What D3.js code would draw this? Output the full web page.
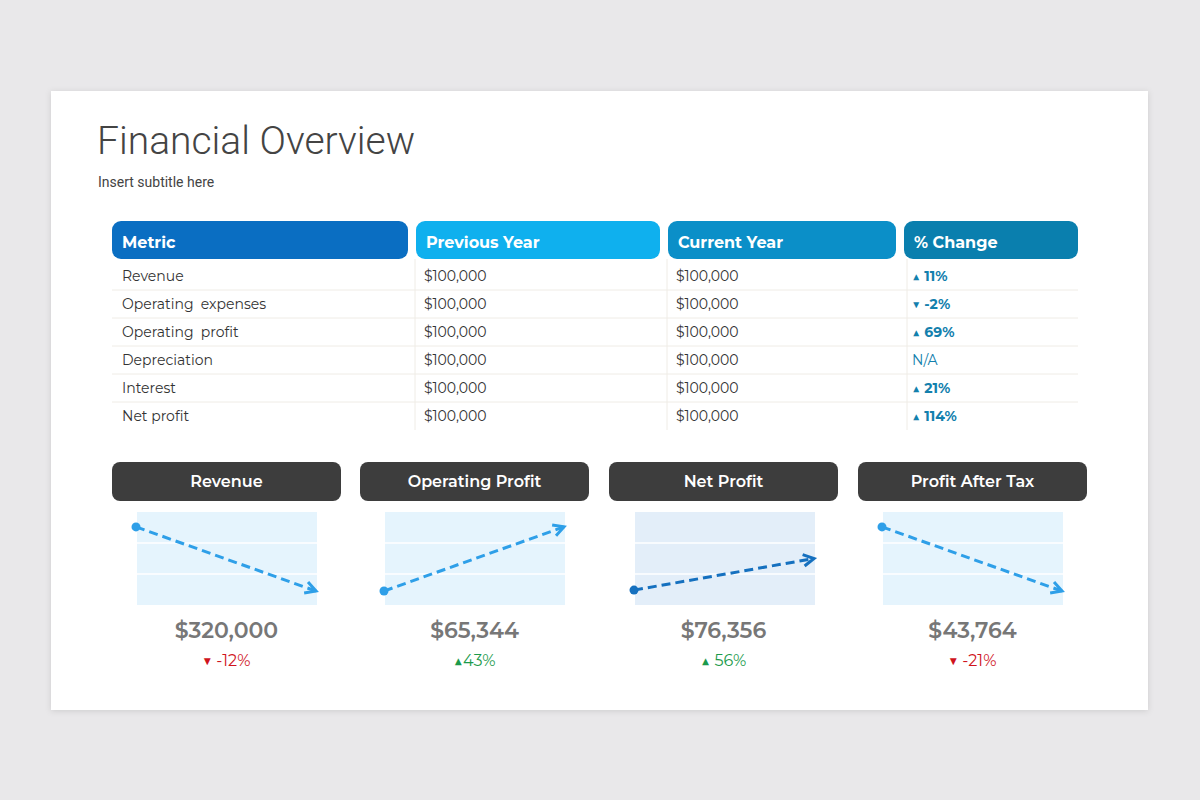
<!DOCTYPE html>
<html><head><meta charset="utf-8">
<script src="https://cdn.jsdelivr.net/npm/d3@7"></script>
<style>body{margin:0;background:#e9e8ea;}svg{display:block}</style>
</head><body>
<script>
const headers = ["Metric","Previous Year","Current Year","% Change"];
const metrics = ["Revenue","Operating  expenses","Operating  profit","Depreciation","Interest","Net profit"];
const previousYear = ["$100,000","$100,000","$100,000","$100,000","$100,000","$100,000"];
const currentYear = ["$100,000","$100,000","$100,000","$100,000","$100,000","$100,000"];
const pctChange = ["▲ 11%","▼ -2%","▲ 69%","N/A","▲ 21%","▲ 114%"];
const cardTitles = ["Revenue","Operating Profit","Net Profit","Profit After Tax"];
const lineStart = [84,15,16,84];
const lineEnd = [15,84,50,15];
const cardValues = ["$320,000","$65,344","$76,356","$43,764"];
const cardChanges = ["▼ -12%","▲43%","▲ 56%","▼ -21%"];
const cardUp = [false,true,true,false];

const W=1200,H=800;
const svg=d3.select("body").append("svg").attr("width",W).attr("height",H);
const defs=svg.append("defs");
const f=defs.append("filter").attr("id","sh").attr("x","-5%").attr("y","-5%").attr("width","110%").attr("height","110%");
f.append("feDropShadow").attr("dx",0).attr("dy",1).attr("stdDeviation",3).attr("flood-color","#000").attr("flood-opacity",0.12);
svg.append("rect").attr("x",51).attr("y",91).attr("width",1097).attr("height",619).attr("fill","#fff").attr("filter","url(#sh)");
svg.append("text").attr("x",97).attr("y",154).attr("font-family","Roboto").attr("font-weight",300).attr("font-size",39).attr("fill","#444").text("Financial Overview");
svg.append("text").attr("x",98).attr("y",187).attr("font-family","Roboto").attr("font-size",14).attr("fill","#444").text("Insert subtitle here");

const font="Montserrat, 'Open Sans', sans-serif";
const colX=[112,416,668,904], colW=[296,244,228,174];
const colColors=["#0a6ec2","#0fb0ee","#0b8fc8","#0a7fae"];
const rowY=d3.scaleBand().domain(d3.range(6)).range([262,430]);
// headers
headers.forEach((h,i)=>{
  svg.append("rect").attr("x",colX[i]).attr("y",221).attr("width",colW[i]).attr("height",38).attr("rx",9).attr("fill",colColors[i]);
  svg.append("text").attr("x",colX[i]+10).attr("y",248).attr("font-family",font).attr("font-weight",700).attr("font-size",16).attr("fill","#fff").text(h);
});
// row separators
d3.range(1,6).forEach(r=>svg.append("line").attr("x1",112).attr("x2",1078).attr("y1",rowY(r)).attr("y2",rowY(r)).attr("stroke","#efece6").attr("stroke-width",1));
[415,667,907].forEach(x=>svg.append("line").attr("x1",x).attr("x2",x).attr("y1",259).attr("y2",430).attr("stroke","#efece6"));
const cols=[metrics,previousYear,currentYear,pctChange];
cols.forEach((arr,c)=>arr.forEach((t,r)=>{
  svg.append("text").attr("x",colX[c]+(c==0?10:8)).attr("y",rowY(r)+rowY.bandwidth()/2+5)
   .attr("font-family",font).attr("font-size",14).attr("xml:space","preserve")
   .attr("font-weight",c==3&&t!=="N/A"?700:400)
   .attr("fill",c==3?"#1380ad":"#333").text(t);
}));
// cards
const cardX=[112,360,609,858], cardW=229;
const plotX=[137,385,635,883], plotW=180;
const y=d3.scaleLinear().domain([0,100]).range([605,512]);
cardTitles.forEach((t,i)=>{
  svg.append("rect").attr("x",cardX[i]).attr("y",462).attr("width",cardW).attr("height",39).attr("rx",8).attr("fill","#3d3d3d");
  svg.append("text").attr("x",cardX[i]+cardW/2).attr("y",487).attr("text-anchor","middle").attr("font-family",font).attr("font-weight",600).attr("font-size",16).attr("fill","#fff").text(t);
  const dark=i==2;
  svg.append("rect").attr("x",plotX[i]).attr("y",512).attr("width",plotW).attr("height",93).attr("fill",dark?"#e3eef9":"#e5f4fd");
  [33.3,66.6].forEach(v=>svg.append("line").attr("x1",plotX[i]).attr("x2",plotX[i]+plotW).attr("y1",y(v)).attr("y2",y(v)).attr("stroke","#fff").attr("stroke-width",1.5));
  const col=dark?"#1570bf":"#2e9fe8";
  const x=d3.scaleLinear().domain([0,1]).range([plotX[i]-1,plotX[i]+plotW-1]);
  const x0=x(0),y0=y(lineStart[i]),x1=x(1),y1=y(lineEnd[i]);
  svg.append("line").attr("x1",x0).attr("y1",y0).attr("x2",x1).attr("y2",y1).attr("stroke",col).attr("stroke-width",3).attr("stroke-dasharray","9,5");
  svg.append("circle").attr("cx",x0).attr("cy",y0).attr("r",4.5).attr("fill",col);
  const a=Math.atan2(y1-y0,x1-x0), L=12;
  const p=[[x1-L*Math.cos(a-0.5),y1-L*Math.sin(a-0.5)],[x1,y1],[x1-L*Math.cos(a+0.5),y1-L*Math.sin(a+0.5)]];
  svg.append("path").attr("d",d3.line()(p)).attr("fill","none").attr("stroke",col).attr("stroke-width",3).attr("stroke-linejoin","miter");
  const cx=cardX[i]+cardW/2;
  svg.append("text").attr("x",cx).attr("y",638).attr("text-anchor","middle").attr("font-family",font).attr("font-weight",600).attr("font-size",22).attr("fill","#777").text(cardValues[i]);
  svg.append("text").attr("x",cx).attr("y",666).attr("text-anchor","middle").attr("font-family",font).attr("font-size",16).attr("fill",cardUp[i]?"#1b9a4b":"#d0141c").text(cardChanges[i]);
});
</script>
</body></html>
